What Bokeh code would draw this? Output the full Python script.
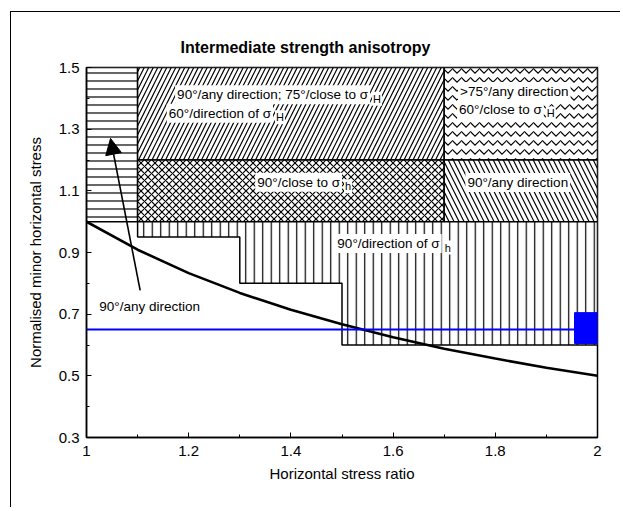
from bokeh.plotting import figure
from bokeh.models import Label, Arrow, NormalHead, FixedTicker, Range1d
from bokeh.embed import file_html
from bokeh.resources import INLINE

# ---------------- data ----------------
title_text = "Intermediate strength anisotropy"
x_label = "Horizontal stress ratio"
y_label = "Normalised minor horizontal stress"

x_ticks = [1, 1.2, 1.4, 1.6, 1.8, 2]
x_tick_labels = ["1", "1.2", "1.4", "1.6", "1.8", "2"]
x_minor_ticks = [1.1, 1.3, 1.5, 1.7, 1.9]
y_ticks = [0.3, 0.5, 0.7, 0.9, 1.1, 1.3, 1.5]
y_tick_labels = ["0.3", "0.5", "0.7", "0.9", "1.1", "1.3", "1.5"]
y_minor_ticks = [0.4, 0.6, 0.8, 1.0, 1.2, 1.4]

# rectangular failure zones: left, right, bottom, top
zone_left = [1.0, 1.1, 1.1, 1.7, 1.7]
zone_right = [1.1, 1.7, 1.7, 2.0, 2.0]
zone_bottom = [1.0, 1.2, 1.0, 1.2, 1.0]
zone_top = [1.5, 1.5, 1.2, 1.5, 1.2]

# stepped zone (90°/direction of sigma_h)
step_edges = [1.1, 1.3, 1.5, 2.0]
step_bottoms = [0.95, 0.8, 0.6]
step_top = 1.0

# boundary curve
curve_x = [1.0, 1.1, 1.2, 1.3, 1.4, 1.5, 1.6, 1.7, 1.8, 1.9, 2.0]
curve_y = [1.0, 0.909, 0.833, 0.769, 0.714, 0.667, 0.625, 0.588, 0.556, 0.526, 0.5]

# blue case line and marker
blue_line_x = [1.0, 1.955]
blue_line_y = [0.65, 0.65]
blue_box_left = [1.955]
blue_box_right = [2.005]
blue_box_bottom = [0.605]
blue_box_top = [0.705]

# arrow from label to zone
arrow_start = (1.105, 0.777)
arrow_end = (1.047, 1.27)

# ---------------- figure ----------------
W, H = 610, 496
p = figure(width=W, height=H, output_backend="svg", toolbar_location=None,
           x_range=Range1d(1.0, 2.0), y_range=Range1d(0.3, 1.5),
           min_border_left=75, min_border_right=24, min_border_top=55,
           min_border_bottom=71, title=title_text)
# outer figure border (only top and left edges are visible in the original)
p.styles = {"border-top": "1.5px solid black", "border-left": "1.5px solid black",
            "margin-left": "10px", "margin-top": "11px"}
p.xgrid.visible = False
p.ygrid.visible = False
p.outline_line_color = "black"
p.outline_line_width = 1.5
p.background_fill_color = "white"
p.border_fill_color = "white"

FONT = "Liberation Sans"

p.title.align = "left"
p.title.offset = 94
p.title.standoff = 23
p.title.text_font = FONT
p.title.text_font_size = "16px"
p.title.text_font_style = "bold"
p.title.text_color = "black"

hatches = ["-", "/", "x", "v", "\\"]
scales = [8, 9, 7, 9, 10]
for i in range(len(zone_left)):
    p.quad(left=[zone_left[i]], right=[zone_right[i]], bottom=[zone_bottom[i]],
           top=[zone_top[i]], fill_color="white", line_color="black", line_width=1.5,
           hatch_pattern=hatches[i], hatch_color="black", hatch_scale=scales[i],
           hatch_weight=1.2)

# stepped polygon
sx = [step_edges[0], step_edges[-1]]
sy = [step_top, step_top]
sx.append(step_edges[-1]); sy.append(step_bottoms[-1])
for k in range(len(step_bottoms) - 1, -1, -1):
    sx.append(step_edges[k]); sy.append(step_bottoms[k])
    if k > 0:
        sx.append(step_edges[k]); sy.append(step_bottoms[k - 1])
p.patch(sx, sy, fill_color="white", line_color="black", line_width=1.5,
        hatch_pattern="|", hatch_color="black", hatch_scale=8.5, hatch_weight=1.2)

# curve
p.line(curve_x, curve_y, line_color="black", line_width=2.6)

# blue line & box
p.line(blue_line_x, blue_line_y, line_color="#0000ff", line_width=2)
p.quad(left=blue_box_left, right=blue_box_right, bottom=blue_box_bottom,
       top=blue_box_top, fill_color="#0000ff", line_color="#0000ff")

# arrow
p.add_layout(Arrow(end=NormalHead(size=16, fill_color="black", line_color="black"),
                   x_start=arrow_start[0], y_start=arrow_start[1],
                   x_end=arrow_end[0], y_end=arrow_end[1],
                   line_color="black", line_width=1.6))

# ---------------- texts ----------------
TS = "13.5px"
SUB = "11px"

def txt(x, y, s, align="left", size=TS, xo=0, yo=0, bg=True, pad=2):
    lab = Label(x=x, y=y, text=s, text_align=align, text_baseline="middle",
                text_font_size=size, text_font=FONT, x_offset=xo, y_offset=yo,
                text_color="black", padding=pad if bg else 0,
                background_fill_color="white" if bg else None)
    p.add_layout(lab)

# upper-left zone
txt(1.555, 1.412, "90°/any direction; 75°/close to σ", align="right")
txt(1.555, 1.412, "H", size=SUB, xo=2, yo=-4, pad=1)
txt(1.365, 1.352, "60°/direction of σ", align="right")
txt(1.365, 1.352, "H", size=SUB, xo=2, yo=-4, pad=1)
# cross-hatched zone
txt(1.50, 1.128, "90°/close to σ", align="right")
txt(1.50, 1.128, "h", size=SUB, xo=2, yo=-4, pad=1)
# upper-right wavy zone
txt(1.727, 1.422, ">75°/any direction")
txt(1.895, 1.364, "60°/close to σ", align="right")
txt(1.895, 1.364, "H", size=SUB, xo=2, yo=-4, pad=1)
# lower-right zone
txt(1.844, 1.127, "90°/any direction", align="center")
# stepped zone
txt(1.695, 0.929, "90°/direction of σ", align="right")
txt(1.695, 0.929, "h", size=SUB, xo=2, yo=-4, pad=1)
# arrow label
txt(1.025, 0.725, "90°/any direction", bg=False)

# ---------------- axes ----------------
for ax in (p.xaxis[0], p.yaxis[0]):
    ax.axis_line_color = "black"
    ax.axis_line_width = 1.5
    ax.major_tick_in = 5
    ax.major_tick_out = 0
    ax.minor_tick_in = 3
    ax.minor_tick_out = 0
    ax.major_tick_line_color = "black"
    ax.minor_tick_line_color = "black"
    ax.major_label_text_font = FONT
    ax.major_label_text_font_size = "15px"
    ax.major_label_text_color = "black"
    ax.axis_label_text_font = FONT
    ax.axis_label_text_font_size = "15px"
    ax.axis_label_text_font_style = "normal"
    ax.axis_label_text_color = "black"

p.xaxis[0].ticker = FixedTicker(ticks=x_ticks, minor_ticks=x_minor_ticks)
p.yaxis[0].ticker = FixedTicker(ticks=y_ticks, minor_ticks=y_minor_ticks)
p.xaxis[0].major_label_overrides = {t: l for t, l in zip(x_ticks, x_tick_labels)}
p.yaxis[0].major_label_overrides = {t: l for t, l in zip(y_ticks, y_tick_labels)}
p.xaxis[0].axis_label = x_label
p.yaxis[0].axis_label = y_label
p.xaxis[0].major_label_standoff = 8
p.yaxis[0].major_label_standoff = 7
p.xaxis[0].axis_label_standoff = 6
p.yaxis[0].axis_label_standoff = 12

open("out.html", "w").write(file_html(p, INLINE))
